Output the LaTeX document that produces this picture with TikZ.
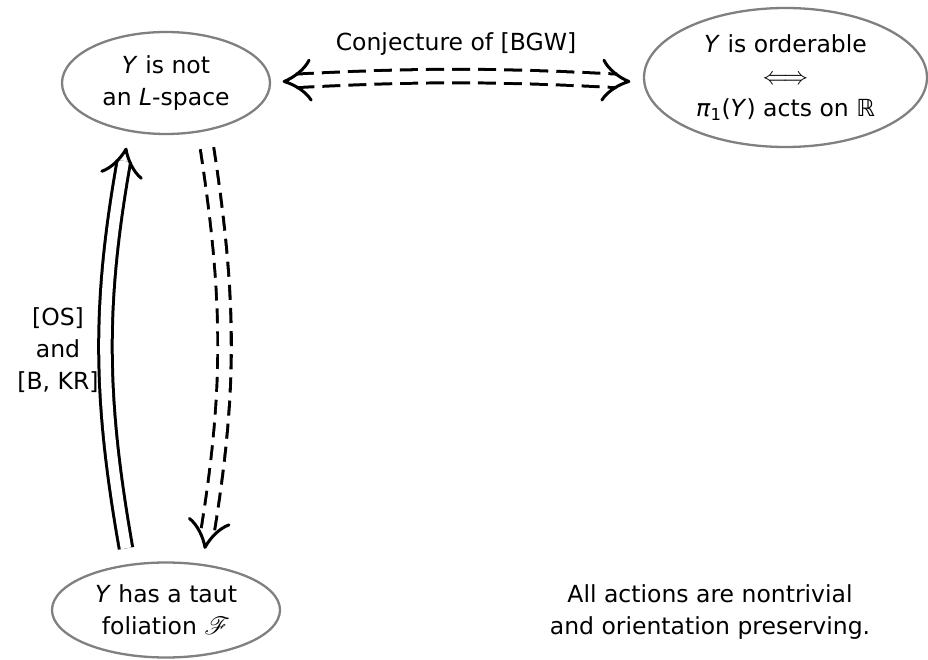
\documentclass[tikz,border=0pt]{standalone}
\usepackage{fontspec}
\setmainfont{DejaVu Sans}
\usepackage{mathrsfs}
\usetikzlibrary{shapes.geometric,calc}
\newcommand\mytip[2]{%
  \path let \p1=($(#1)-(#2)$), \n1={atan2(\y1,\x1)} in \pgfextra{\xdef\tipang{\n1}};
  \begin{scope}[shift={(#1)}, rotate=\tipang]
    \draw[tipline] (-26,-20) .. controls (-21,-11) and (-10,-3.5) .. (0,0)
                          .. controls (-10,3.5) and (-21,11) .. (-26,20);
  \end{scope}}
\begin{document}
\begin{tikzpicture}[x=1pt,y=-1pt,
  font={\fontsize{23.5}{32}\selectfont},
  ellnode/.style={ellipse, draw=gray, line width=2.3pt, inner sep=0pt, align=center, text=black},
  dbl/.style={draw=black, double=white, line width=3pt, double distance=10.5pt},
  dshout/.style={draw=black, line width=16.5pt},
  dshin/.style={draw=white, line width=10.5pt},
  tipline/.style={draw=black, line width=3pt, line cap=round, line join=round},
  lbl/.style={align=center, inner sep=0pt, text=black}
]
\useasboundingbox (0,0) rectangle (928,660);

\node[ellnode, minimum width=208pt, minimum height=102pt] (A) at (166,83) {\textit{Y} is not\\an \textit{L}-space};
\node[ellnode, minimum width=283pt, minimum height=139pt] (B) at (785.5,77.5) {\textit{Y} is orderable\\$\Longleftrightarrow$\\\textit{π}\textsubscript{1}(\textit{Y}) acts on ℝ};
\node[ellnode, minimum width=228pt, minimum height=95pt] (C) at (166,610) {\textit{Y} has a taut\\foliation $\mathscr{F}$};

\node[lbl] (conj) at (456,44) {Conjecture of [BGW]};
\node[lbl] (os) at (58,350) {[OS]\\{}and\\{}{[B, KR]}};
\node[lbl] (note) at (710,612) {All actions are nontrivial\\and orientation preserving.};

% end points
\coordinate (h1) at ($(A.east)+(13,-1.5)$);
\coordinate (h2) at ($(B.west)+(-14,4)$);
\coordinate (s1) at ($(C.north)+(-40,-13)$);
\coordinate (s2) at ($(A.south)+(-40,14)$);
\coordinate (d1) at ($(A.south)+(41,13)$);
\coordinate (d2) at ($(C.north)+(39,-14)$);

% horizontal double-headed dashed arrow
\draw[dshout, dash pattern=on 18pt off 8pt, shorten <=12pt, shorten >=12pt] (h1) to[bend left=3] (h2);
\draw[dshin, shorten <=10pt, shorten >=10pt] (h1) to[bend left=3] (h2);
\path (h1) to[bend left=3] coordinate[pos=0.01] (h1a) coordinate[pos=0.99] (h2a) (h2);
\mytip{h1}{h1a}
\mytip{h2}{h2a}

% solid arrow up
\draw[dbl, shorten >=12pt] (s1) to[bend left=10] (s2);
\path (s1) to[bend left=10] coordinate[pos=0.99] (s2a) (s2);
\mytip{s2}{s2a}

% dashed arrow down
\draw[dshout, dash pattern=on 15pt off 8pt, shorten >=12pt] (d1) to[bend left=9] (d2);
\draw[dshin, shorten <=-2pt, shorten >=10pt] (d1) to[bend left=9] (d2);
\path (d1) to[bend left=9] coordinate[pos=0.99] (d2a) (d2);
\mytip{d2}{d2a}
\end{tikzpicture}
\end{document}
